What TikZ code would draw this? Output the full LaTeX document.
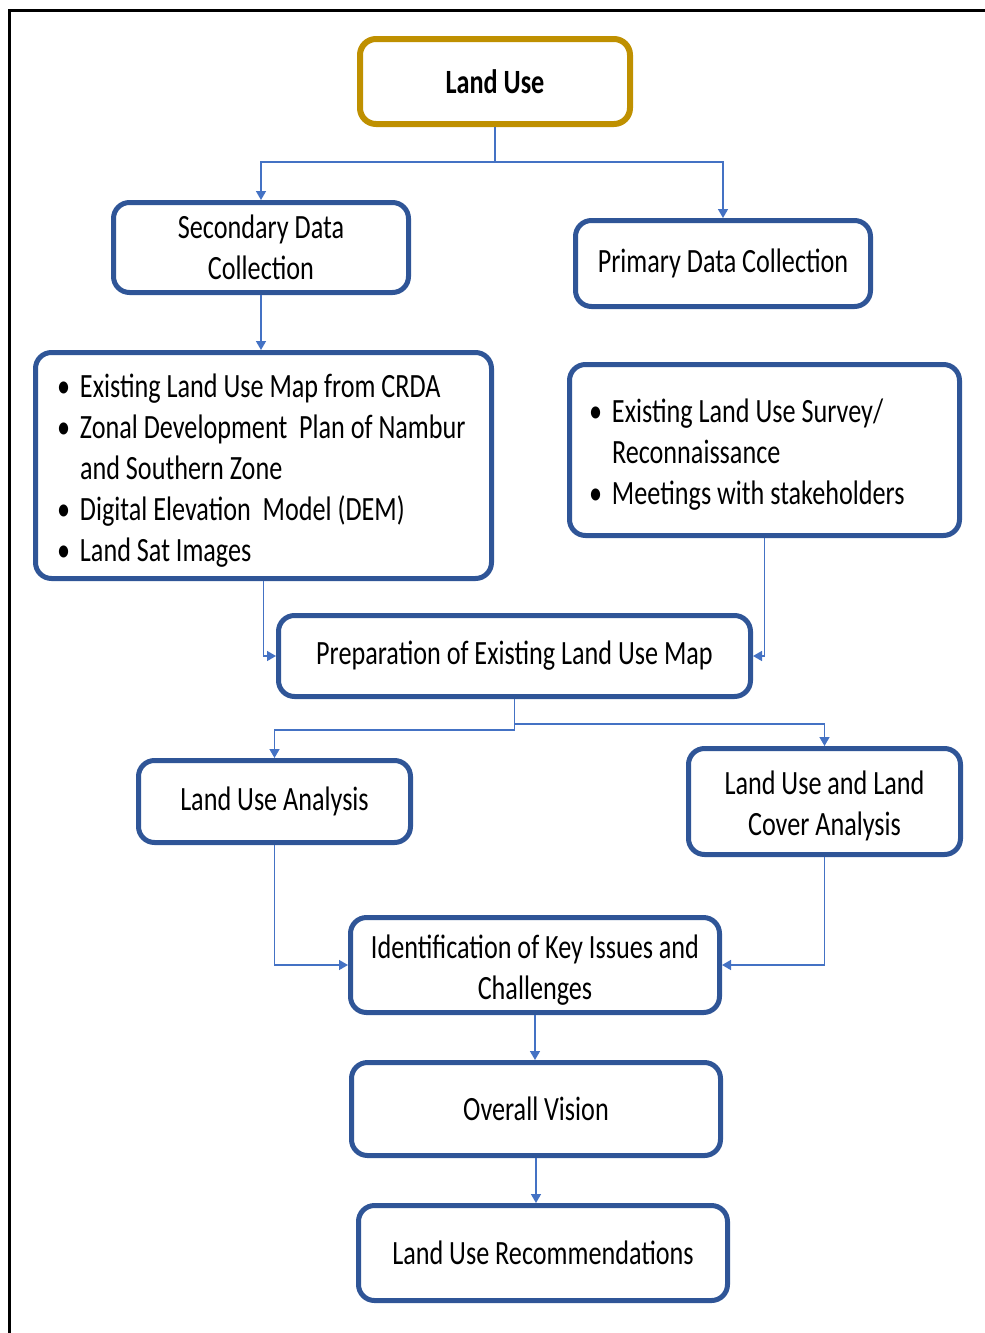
\documentclass[tikz,border=0pt]{standalone}
\usepackage{fontspec}
\setmainfont{Carlito}[FakeStretch=0.77]
\usetikzlibrary{arrows.meta}
\definecolor{boxblue}{HTML}{2F5597}
\definecolor{linkblue}{HTML}{4472C4}
\definecolor{gold}{HTML}{BF9000}
\newcommand\blt{\makebox[23pt][l]{\textbullet}}
\begin{document}
\begin{tikzpicture}[x=1pt,y=-1pt,
  box/.style={draw=boxblue, line width=5pt, rounded corners=16pt, fill=white,
    align=center, font=\fontsize{34}{41}\selectfont, inner sep=0pt},
  listbox/.style={box},
  conn/.style={draw=linkblue, line width=1.5pt, -{Triangle[length=9pt,width=10pt]}}]
\useasboundingbox (0,0) rectangle (985,1333);
\draw[line width=3pt] (9,1345) -- (9,10) -- (995,10);

\node[box, draw=gold, line width=6pt, minimum width=270pt, minimum height=85pt,
  font=\bfseries\fontsize{34}{41}\selectfont] (landuse) at (495,81.5) {Land Use};
\node[box, minimum width=295pt, minimum height=90pt] (secondary) at (261,247.5)
  {Secondary Data\\Collection};
\node[box, minimum width=295pt, minimum height=86pt] (primary) at (723,263.5)
  {Primary Data Collection};
\node[listbox, minimum height=226pt, inner xsep=21.5pt] (seclist) at (263.5,465.5)
  {\makebox[413pt][l]{\begin{tabular}{@{}l@{}l@{}}
   \rule{0pt}{41pt}\blt & Existing Land Use Map from CRDA\\
   \blt & Zonal Development \ Plan of Nambur\\
        & and Southern Zone\\
   \blt & Digital Elevation \ Model (DEM)\\
   \blt & Land Sat Images
   \end{tabular}}};
\node[listbox, minimum height=171pt, inner xsep=19.5pt] (primlist) at (764.5,450)
  {\makebox[351pt][l]{\begin{tabular}{@{}l@{}l@{}}
   \rule{0pt}{39pt}\blt & Existing Land Use Survey/\\
        & Reconnaissance\\
   \blt & Meetings with stakeholders
   \end{tabular}}};
\node[box, minimum width=472pt, minimum height=81pt] (prep) at (514.5,656)
  {Preparation of Existing Land Use Map};
\node[box, minimum width=272pt, minimum height=82pt] (lua) at (274.5,801.5)
  {Land Use Analysis};
\node[box, minimum width=272pt, minimum height=106pt] (lulc) at (824.5,801.5)
  {\rule{0pt}{33pt}Land Use and Land\\Cover Analysis};
\node[box, minimum width=369pt, minimum height=95pt] (ident) at (535,965)
  {\rule{0pt}{33pt}Identification of Key Issues and\\Challenges};
\node[box, minimum width=369pt, minimum height=93pt] (vision) at (536,1109)
  {Overall Vision};
\node[box, minimum width=369pt, minimum height=95pt] (recs) at (543,1253)
  {Land Use Recommendations};

\draw[conn] (landuse.south) -- ++(0,35) -| (secondary.north);
\draw[conn] (landuse.south) -- ++(0,35) -| (primary.north);
\draw[conn] (secondary.south) -- (secondary.south |- seclist.north);
\draw[conn] (seclist.south) |- (prep.west);
\draw[conn] (primlist.south) |- (prep.east);
\draw[conn] (prep.south) -- ++(0,31) -| (lua.north);
\draw[conn] (prep.south) -- ++(0,25) -| (lulc.north);
\draw[conn] (lua.south) |- (ident.west);
\draw[conn] (lulc.south) |- (ident.east);
\draw[conn] (ident.south) -- (ident.south |- vision.north);
\draw[conn] (vision.south) -- (vision.south |- recs.north);
\end{tikzpicture}
\end{document}
